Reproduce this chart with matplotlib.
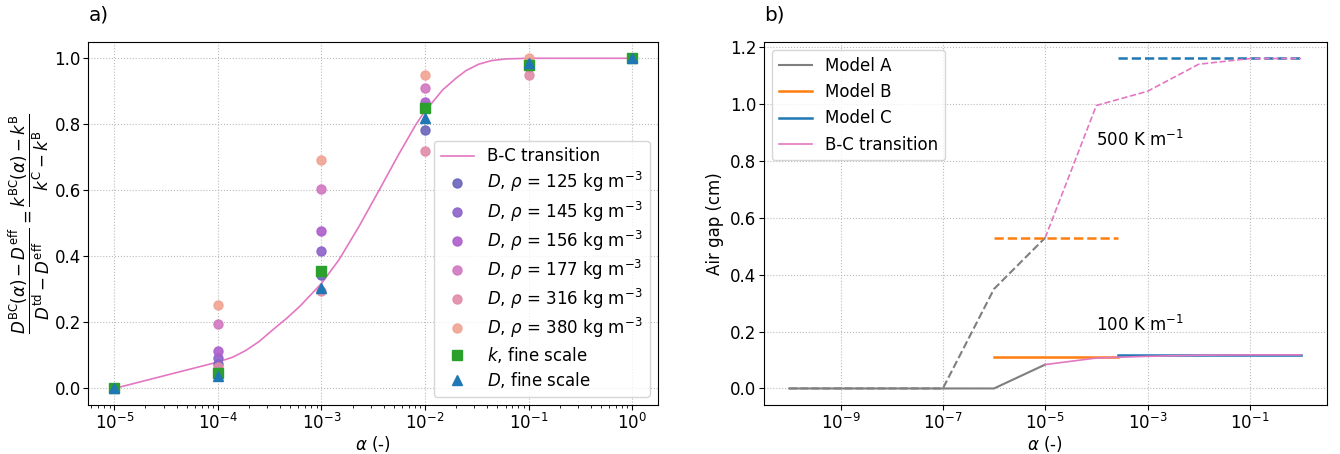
import numpy as np
import matplotlib
matplotlib.use("Agg")
import matplotlib.pyplot as plt

# ---- panel a) data ----
alpha_pts = [1e-5, 1e-4, 1e-3, 1e-2, 1e-1, 1e0]
densities = [125, 145, 156, 177, 316, 380]
dens_colors = ["#6a64bc", "#8c62c8", "#ad5ecb", "#d177bf", "#e18ba8", "#f0a393"]
D_vals = {
    125: [0.0, 0.075, 0.345, 0.783, 0.975, 1.0],
    145: [0.0, 0.093, 0.415, 0.855, 0.98, 1.0],
    156: [0.0, 0.113, 0.478, 0.867, 0.985, 1.0],
    177: [0.0, 0.194, 0.603, 0.911, 0.99, 1.0],
    316: [0.0, 0.065, 0.295, 0.720, 0.950, 1.0],
    380: [0.0, 0.254, 0.692, 0.950, 1.0, 1.0],
}
k_fine = [0.0, 0.048, 0.356, 0.850, 0.980, 1.0]
D_fine = [0.0, 0.037, 0.305, 0.820, 0.985, 1.0]

curve_alpha = [1e-5, 1e-4, 1.4e-4, 1.86e-4, 2.5e-4, 3.4e-4, 4.6e-4, 6.2e-4, 1e-3,
               1.48e-3, 2.3e-3, 3.6e-3, 5.6e-3, 8.2e-3, 1e-2, 1.25e-2, 1.48e-2,
               2e-2, 2.5e-2, 3.3e-2, 4.4e-2, 6e-2, 1e-1, 1e0]
curve_val = [0.0, 0.08, 0.095, 0.115, 0.142, 0.178, 0.212, 0.249, 0.318,
             0.39, 0.49, 0.60, 0.71, 0.80, 0.84, 0.876, 0.904,
             0.940, 0.963, 0.982, 0.993, 0.998, 1.0, 1.0]

# ---- panel b) data ----
a_A = [1e-10, 1e-7, 1e-6, 1e-5]
gap_A_100 = [0.0, 0.0, 0.0, 0.084]
gap_A_500 = [0.0, 0.0, 0.35, 0.53]
a_B = [1e-6, 2.7e-4]
gap_B_100 = [0.109, 0.109]
gap_B_500 = [0.53, 0.53]
a_C = [2.7e-4, 1e0]
gap_C_100 = [0.119, 0.119]
gap_C_500 = [1.161, 1.161]
a_BC = [1e-5, 1e-4, 1e-3, 1e-2, 1e-1, 1e0]
gap_BC_100 = [0.084, 0.107, 0.113, 0.117, 0.118, 0.118]
gap_BC_500 = [0.53, 0.995, 1.045, 1.14, 1.16, 1.16]

plt.rcParams["font.size"] = 12

fig = plt.figure(figsize=(13.4, 4.54), dpi=100)
ax1 = fig.add_axes([0.066, 0.108, 0.425, 0.8])
ax2 = fig.add_axes([0.570, 0.108, 0.420, 0.8])

# a)
ax1.plot(curve_alpha, curve_val, color="tab:pink", lw=1.2, label="B-C transition")
for rho, c in zip(densities, dens_colors):
    ax1.plot(alpha_pts, D_vals[rho], "o", color=c, ms=6.5, alpha=0.9,
             label=r"$D$, $\rho$ = %d kg m$^{-3}$" % rho)
ax1.plot(alpha_pts, k_fine, "s", color="tab:green", ms=7, label=r"$k$, fine scale")
ax1.plot(alpha_pts, D_fine, "^", color="tab:blue", ms=7, label=r"$D$, fine scale")
ax1.set_xscale("log")
ax1.set_xlabel(r"$\alpha$ (-)", labelpad=1)
ax1.set_ylabel(r"$\dfrac{D^{\rm BC}(\alpha) - D^{\rm eff}}{D^{\rm td} - D^{\rm eff}}"
               r" = \dfrac{k^{\rm BC}(\alpha) - k^{\rm B}}{k^{\rm C} - k^{\rm B}}$",
               labelpad=2)
ax1.grid(True, linestyle=":", color="#bbbbbb")
ax1.legend(loc="lower right", labelspacing=0.3)
ax1.set_title("a)", loc="left", pad=15)
ax1.tick_params(pad=2)

# b)
ax2.plot(a_A, gap_A_100, color="tab:gray", lw=1.5, label="Model A")
ax2.plot(a_B, gap_B_100, color="tab:orange", lw=1.8, label="Model B")
ax2.plot(a_C, gap_C_100, color="tab:blue", lw=1.8, label="Model C")
ax2.plot(a_BC, gap_BC_100, color="tab:pink", lw=1.2, label="B-C transition")
ax2.plot(a_A, gap_A_500, "--", color="tab:gray", lw=1.5)
ax2.plot(a_B, gap_B_500, "--", color="tab:orange", lw=1.8)
ax2.plot(a_C, gap_C_500, "--", color="tab:blue", lw=1.8)
ax2.plot(a_BC, gap_BC_500, "--", color="tab:pink", lw=1.2)
ax2.text(1e-4, 0.874, r"500 K m$^{-1}$", va="center")
ax2.text(1e-4, 0.225, r"100 K m$^{-1}$", va="center")
ax2.set_xscale("log")
ax2.set_xlabel(r"$\alpha$ (-)", labelpad=1)
ax2.set_ylabel("Air gap (cm)")
ax2.grid(True, linestyle=":", color="#bbbbbb")
ax2.legend(loc="upper left")
ax2.set_title("b)", loc="left", pad=15)
ax2.tick_params(pad=2)

fig.savefig("out.png", dpi=100)
